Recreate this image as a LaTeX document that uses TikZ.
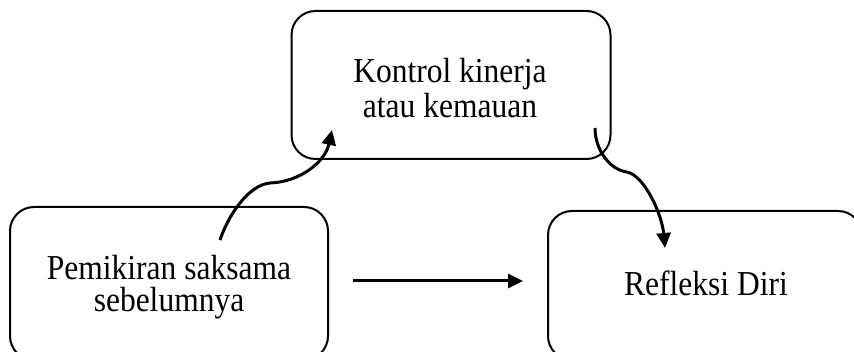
\documentclass[tikz,border=0pt]{standalone}
\usepackage{fontspec}
\setmainfont{Liberation Serif}[FakeStretch=0.9]
\usetikzlibrary{arrows.meta}
\begin{document}
\begin{tikzpicture}[x=1pt,y=-1pt,
  box/.style={draw=black, line width=2pt, rounded corners=24pt, inner sep=0pt},
  label/.style={inner sep=0pt, anchor=base, align=center,
    font=\fontsize{35}{35}\selectfont},
  link/.style={line width=3pt, -{Triangle[length=15pt,width=14pt]}}]
  \useasboundingbox (0,0) rectangle (854,352);
  \clip (0,0) rectangle (854,352);

  % three rounded boxes (the lower two run past the page edge)
  \node[box, minimum width=319pt, minimum height=148pt] (ctrl) at (451,85) {};
  \node[box, minimum width=318pt, minimum height=153pt] (fore) at (169,283.5) {};
  \node[box, minimum width=314pt, minimum height=149pt] (refl) at (705,285.5) {};

  % box texts (anchored at the baseline of the last line)
  \node[label] (ctrltxt) at (450,118) {Kontrol kinerja\\atau kemauan};
  \node[label] (foretxt) at (169,312) {Pemikiran saksama\\[-3pt]sebelumnya};
  \node[label] (refltxt) at (706,296) {Refleksi Diri};

  % connector end points
  \coordinate (a1) at (220,240);
  \coordinate (a2) at (270,183);
  \coordinate (a3) at (332,130);
  \coordinate (b1) at (595,128);
  \coordinate (b2) at (627,172);
  \coordinate (b3) at (665,248);
  \coordinate (c1) at (353,281);
  \coordinate (c2) at (523,281);

  % connectors
  \draw[link] (a1) .. controls (228,216) and (248,185) .. (a2)
                   .. controls (300,182) and (325,162) .. (a3);
  \draw[link] (b1) .. controls (595,150) and (610,170) .. (b2)
                   .. controls (645,176) and (662,215) .. (b3);
  \draw[link] (c1) -- (c2);
\end{tikzpicture}
\end{document}
